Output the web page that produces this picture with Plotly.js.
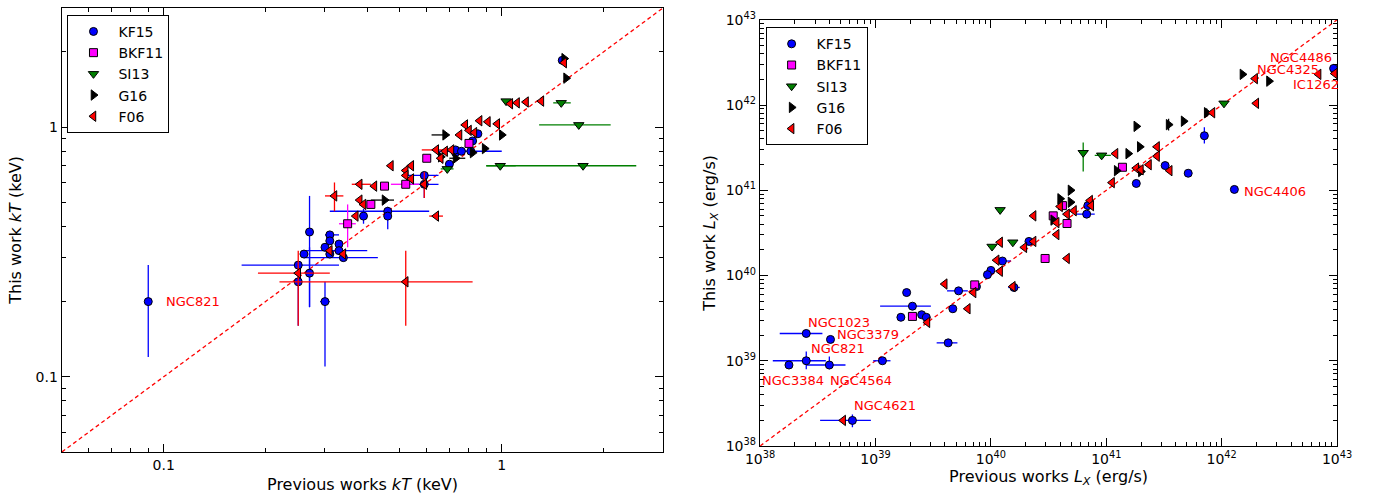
<!DOCTYPE html>
<html>
<head>
<meta charset="utf-8">
<script src="https://cdn.plot.ly/plotly-3.0.1.min.js"></script>
<style>
  *{margin:0;padding:0;}
  #chart{width:1377px;height:495px;}
</style>
</head>
<body>
<div id="chart"></div>
<script>
// rows: [prev, this, xlo, xhi, ylo, yhi]  (0 = no error bar)
// left panel: temperatures kT in keV
const kf15_kT = [
  [0.090,0.20,0,0,0.12,0.28],[1.51,1.85,0,0,0,0],[0.27,0.38,0,0,0.19,0.53],
  [0.25,0.28,0.17,0.33,0,0],[0.25,0.24,0,0,0.16,0.28],[0.26,0.31,0,0,0,0],
  [0.27,0.26,0,0,0.19,0.33],[0.30,0.20,0.29,0.31,0.11,0.24],[0.31,0.37,0.30,0.33,0,0],
  [0.31,0.35,0,0,0,0],[0.30,0.33,0,0,0,0],[0.33,0.34,0,0,0,0],[0.33,0.32,0.26,0.40,0,0],
  [0.34,0.30,0.26,0.43,0,0],[0.31,0.31,0,0,0,0],[0.39,0.44,0,0,0.41,0.47],
  [0.46,0.46,0.31,0.61,0,0],[0.46,0.44,0,0,0.39,0.48],[0.59,0.64,0.52,0.65,0,0],
  [0.59,0.59,0.52,0.65,0.52,0.66],[0.70,0.71,0,0,0,0],[0.73,0.79,0,0,0,0],
  [0.73,0.81,0,0,0,0],[0.76,0.80,0,0,0,0],[0.81,0.80,0.65,1.0,0,0],[0.82,0.88,0,0,0,0],
  [0.85,0.94,0,0,0,0]
];
const bkf11_kT = [
  [0.35,0.41,0.33,0.37,0.33,0.49],[0.41,0.49,0,0,0,0],[0.45,0.58,0,0,0,0],
  [0.52,0.59,0.47,0.57,0,0],[0.60,0.75,0,0,0,0],[0.80,0.86,0,0,0,0]
];
const si13_kT = [
  [0.69,0.68,0.66,0.72,0,0],[0.99,0.70,0.90,1.1,0,0],[1.74,0.70,0.90,2.5,0,0],
  [1.69,1.02,1.29,2.1,0,0],[1.50,1.25,1.42,1.6,0,0],[1.03,1.27,0,0,0,0]
];
const g16_kT = [
  [1.55,1.57,0,0,0,0],[1.53,1.88,0,0,0,0],[0.68,0.93,0.62,0.70,0,0],[1.0,0.93,0,0,0,0],
  [0.89,0.82,0,0,0,0],[0.82,0.79,0,0,0,0],[0.73,0.75,0.70,0.78,0,0],
  [0.45,0.51,0.41,0.48,0,0],[0.66,0.76,0,0,0,0]
];
const f06_kT = [
  [1.53,1.81,0,0,0,0],[1.31,1.27,0,0,0,0],[1.18,1.26,0,0,0,0],[1.11,1.25,0,0,0,0],
  [1.06,1.24,0,0,0,0],[0.97,1.03,0,0,0,0],[0.91,1.05,0,0,0,0],[0.86,1.06,0,0,0,0],
  [0.78,1.02,0,0,0,0],[0.80,0.97,0,0,0,0],[0.75,0.93,0,0,0,0],[0.83,0.95,0,0,0,0],
  [0.71,0.81,0,0,0,0],[0.68,0.80,0,0,0,0],[0.64,0.81,0.58,0.68,0,0],[0.66,0.75,0,0,0,0],
  [0.54,0.70,0,0,0,0],[0.47,0.70,0,0,0,0],[0.52,0.67,0,0,0,0],[0.52,0.64,0,0,0,0],
  [0.54,0.62,0,0,0,0],[0.59,0.59,0,0,0.52,0.66],[0.38,0.59,0.36,0.41,0,0],
  [0.42,0.58,0,0,0,0],[0.32,0.53,0.30,0.34,0.46,0.60],[0.38,0.51,0,0,0,0],
  [0.39,0.49,0,0,0,0],[0.37,0.44,0,0,0,0],[0.64,0.44,0.61,0.67,0,0],
  [0.31,0.32,0,0,0,0],[0.34,0.31,0,0,0,0],
  [0.25,0.26,0.19,0.31,0.16,0.32],[0.52,0.24,0.22,0.82,0.16,0.32]
];
// right panel: log10 of L_X in erg/s
const kf15_LX = [
  [42.97,42.43,0,0,0,0],[41.85,41.64,0,0,41.55,41.74],[42.11,41.01,0,0,0,0],
  [41.51,41.29,0,0,0,0],[41.71,41.20,0,0,0,0],[41.26,41.08,0,0,0,0],
  [40.83,40.72,40.72,40.90,0,0],[40.84,40.82,0,0,0,0],[40.33,40.40,0,0,0,0],
  [40.10,40.17,40.03,40.17,0,0],[40.0,40.06,0,0,0,0],[39.97,40.01,0,0,0,0],
  [40.20,39.86,40.15,40.25,0,0],[39.72,39.82,39.62,39.80,0,0],[39.875,39.87,0,0,0,0],
  [39.27,39.80,0,0,0,0],[39.32,39.64,39.04,39.48,0,0],[39.67,39.61,0,0,0,0],
  [39.22,39.51,0,0,0,0],[39.40,39.54,0,0,0,0],[39.44,39.51,0,0,0,0],
  [39.63,39.21,39.53,39.71,0,0],[38.40,39.32,38.17,38.54,0,0],[38.61,39.25,0,0,0,0],
  [38.40,39.0,38.11,38.57,38.9,39.11],[38.25,38.95,0,0,0,0],
  [38.60,38.95,38.40,38.74,38.9,39.05],[39.06,39.0,38.98,39.13,0,0],
  [38.80,38.30,38.52,38.96,38.22,38.37]
];
const bkf11_LX = [
  [41.14,41.27,0,0,0,0],[40.54,40.70,0,0,0,0],[40.66,40.61,0,0,0,0],
  [40.62,40.82,0,0,0,0],[40.47,40.20,0,0,0,0],[39.86,39.89,0,0,0,0],[39.32,39.52,0,0,0,0]
];
const si13_LX = [
  [42.02,42.02,0,0,0,0],[40.80,41.44,0,0,41.22,41.56],[40.96,41.41,40.90,41.04,0,0],
  [40.08,40.77,0,0,0,0],[40.19,40.39,0,0,0,0],[40.01,40.34,0,0,0,0]
];
const g16_LX = [
  [42.18,42.36,0,0,0,0],[42.41,42.28,0,0,0,0],[41.87,41.91,0,0,41.86,41.96],
  [41.67,41.81,0,0,0,0],[41.54,41.77,0,0,41.70,41.84],[41.26,41.75,0,0,0,0],
  [41.29,41.51,0,0,0,0],[41.19,41.43,0,0,0,0],[41.09,41.23,0,0,0,0],
  [41.30,41.22,0,0,0,0],[40.69,41.0,0,0,0,0],[40.60,40.90,0,0,0,0],
  [40.69,40.86,0,0,0,0],[40.54,40.65,0,0,0,0]
];
const f06_LX = [
  [42.98,42.37,0,0,0,0],[42.84,42.36,0,0,0,0],[42.29,42.31,0,0,0,0],[42.30,42.02,0,0,0,0],
  [41.92,41.91,0,0,0,0],[41.44,41.51,0,0,0,0],[41.44,41.40,0,0,0,0],[41.37,41.30,0,0,0,0],
  [41.26,41.26,0,0,0,0],[41.55,41.23,0,0,0,0],[41.30,41.24,0,0,0,0],[41.08,41.43,0,0,0,0],
  [41.05,41.09,0,0,0,0],[40.86,40.88,0,0,0,0],[40.87,40.82,0,0,0,0],[40.72,40.76,0,0,0,0],
  [40.66,40.72,0,0,0,0],[40.60,40.81,0,0,0,0],[40.37,40.70,0,0,0,0],[40.57,40.48,0,0,0,0],
  [40.57,40.62,0,0,0,0],[40.37,40.40,0,0,0,0],[40.29,40.33,0,0,0,0],[40.08,40.39,0,0,0,0],
  [40.05,40.18,0,0,0,0],[40.08,40.05,0,0,0,0],[40.66,40.20,0,0,0,0],[40.19,39.87,0,0,0,0],
  [39.60,39.90,0,0,0,0],[39.85,39.80,0,0,0,0],[39.80,39.61,0,0,0,0],[39.45,39.45,0,0,0,0],
  [38.72,38.30,0,0,0,0]
];
const kTLabels = [["NGC821",0.100,0.20,'left']];
const LXLabels = [
  ["NGC4486",42.4,42.56,'left'],["NGC4325",42.29,42.42,'left'],["IC1262",42.6,42.24,'left'],
  ["NGC4406",42.18,40.99,'left'],["NGC1023",38.4,39.45,'left'],["NGC3379",38.65,39.31,'left'],
  ["NGC821",38.42,39.14,'left'],["NGC3384",38.57,38.77,'right'],["NGC4564",38.59,38.77,'left'],
  ["NGC4621",38.8,38.47,'left']
];

const series = [
  {name:'KF15', sym:'circle', col:'#0000ff', ec:'#0000ff', size:8},
  {name:'BKF11', sym:'square', col:'#ff00ff', ec:'#ff00ff', size:8},
  {name:'SI13', sym:'triangle-down', col:'#007f00', ec:'#007f00', size:9},
  {name:'G16', sym:'triangle-right', col:'#000000', ec:'#000000', size:9},
  {name:'F06', sym:'triangle-left', col:'#ff0000', ec:'#ff0000', size:9}
];

function makeTrace(rows, s, isLog, ax, leg){
  const f = isLog ? (v => Math.pow(10, v)) : (v => v);
  const x = rows.map(r => f(r[0])), y = rows.map(r => f(r[1]));
  const exp = rows.map((r,i) => r[3] ? f(r[3]) - x[i] : 0);
  const exm = rows.map((r,i) => r[2] ? x[i] - f(r[2]) : 0);
  const eyp = rows.map((r,i) => r[5] ? f(r[5]) - y[i] : 0);
  const eym = rows.map((r,i) => r[4] ? y[i] - f(r[4]) : 0);
  return {
    x: x, y: y, type: 'scatter', mode: 'markers', name: s.name,
    xaxis: 'x' + ax, yaxis: 'y' + ax, legend: leg,
    marker: {symbol: s.sym, color: s.col, size: s.size, line: {color: 'black', width: 1}},
    error_x: {type: 'data', array: exp, arrayminus: exm, color: s.ec, thickness: 1.3, width: 0},
    error_y: {type: 'data', array: eyp, arrayminus: eym, color: s.ec, thickness: 1.3, width: 0}
  };
}

const kTsets = [kf15_kT, bkf11_kT, si13_kT, g16_kT, f06_kT];
const LXsets = [kf15_LX, bkf11_LX, si13_LX, g16_LX, f06_LX];
let data = [
  {x:[0.05,3], y:[0.05,3], mode:'lines', line:{color:'red', dash:'4px,3px', width:1.3}, showlegend:false, xaxis:'x', yaxis:'y'},
  {x:[1e38,1e43], y:[1e38,1e43], mode:'lines', line:{color:'red', dash:'4px,3px', width:1.3}, showlegend:false, xaxis:'x2', yaxis:'y2'}
];
kTsets.forEach((rows,i) => data.push(makeTrace(rows, series[i], false, '', 'legend')));
LXsets.forEach((rows,i) => data.push(makeTrace(rows, series[i], true, '2', 'legend2')));

const fnt = {family: 'DejaVu Sans', size: 16, color: 'black'};
const axBase = {
  type: 'log', showline: true, linecolor: 'black', linewidth: 1.3, mirror: 'allticks',
  ticks: 'inside', ticklen: 8, tickcolor: 'black', showgrid: false, zeroline: false,
  minor: {ticks: 'inside', ticklen: 4, tickcolor: 'black', dtick: 'D1'},
  tickfont: {family: 'DejaVu Sans', size: 14, color: 'black'}
};
const pow = [38,39,40,41,42,43];
const lblFont = {family:'DejaVu Sans', size:13, color:'red'};
const annotations = [];
kTLabels.forEach(l => annotations.push({x: Math.log10(l[1]), y: Math.log10(l[2]), xref:'x', yref:'y', text:l[0], showarrow:false, xanchor:l[3], font:lblFont}));
LXLabels.forEach(l => annotations.push({x: l[1], y: l[2], xref:'x2', yref:'y2', text:l[0], showarrow:false, xanchor:l[3], font:lblFont}));

const legBase = {bordercolor:'black', borderwidth:1, bgcolor:'white', font:{family:'DejaVu Sans', size:14, color:'black'}, tracegroupgap:0, xanchor:'left', yanchor:'top', itemwidth:40};
const layout = {
  width: 1377, height: 495, margin: {l:0, r:0, t:0, b:0},
  paper_bgcolor: 'white', plot_bgcolor: 'white', showlegend: true,
  xaxis: Object.assign({}, axBase, {domain:[0.045,0.4815], range:[Math.log10(0.05), Math.log10(3)],
    tickvals:[0.1,1], ticktext:['0.1','1'], anchor:'y',
    title:{text:'Previous works <i>kT</i> (keV)', font:fnt, standoff:6}}),
  yaxis: Object.assign({}, axBase, {domain:[0.087,0.984], range:[Math.log10(0.05), Math.log10(3)],
    tickvals:[0.1,1], ticktext:['0.1','1'], anchor:'x',
    title:{text:'This work <i>kT</i> (keV)', font:fnt, standoff:10}}),
  xaxis2: Object.assign({}, axBase, {domain:[0.552,0.971], range:[38,43],
    tickvals: pow.map(p => Math.pow(10,p)), ticktext: pow.map(p => '10<sup>' + p + '</sup>'), anchor:'y2',
    title:{text:'Previous works <i>L</i><sub><i>X</i></sub> (erg/s)', font:fnt, standoff:4}}),
  yaxis2: Object.assign({}, axBase, {domain:[0.099,0.96], range:[38,43],
    tickvals: pow.map(p => Math.pow(10,p)), ticktext: pow.map(p => '10<sup>' + p + '</sup>'), anchor:'x2',
    title:{text:'This work <i>L</i><sub><i>X</i></sub> (erg/s)', font:fnt, standoff:6}}),
  legend: Object.assign({}, legBase, {x:0.049, y:0.97}),
  legend2: Object.assign({}, legBase, {x:0.556, y:0.945}),
  annotations: annotations
};
Plotly.newPlot('chart', data, layout, {displayModeBar:false, staticPlot:true});
</script>
</body>
</html>
